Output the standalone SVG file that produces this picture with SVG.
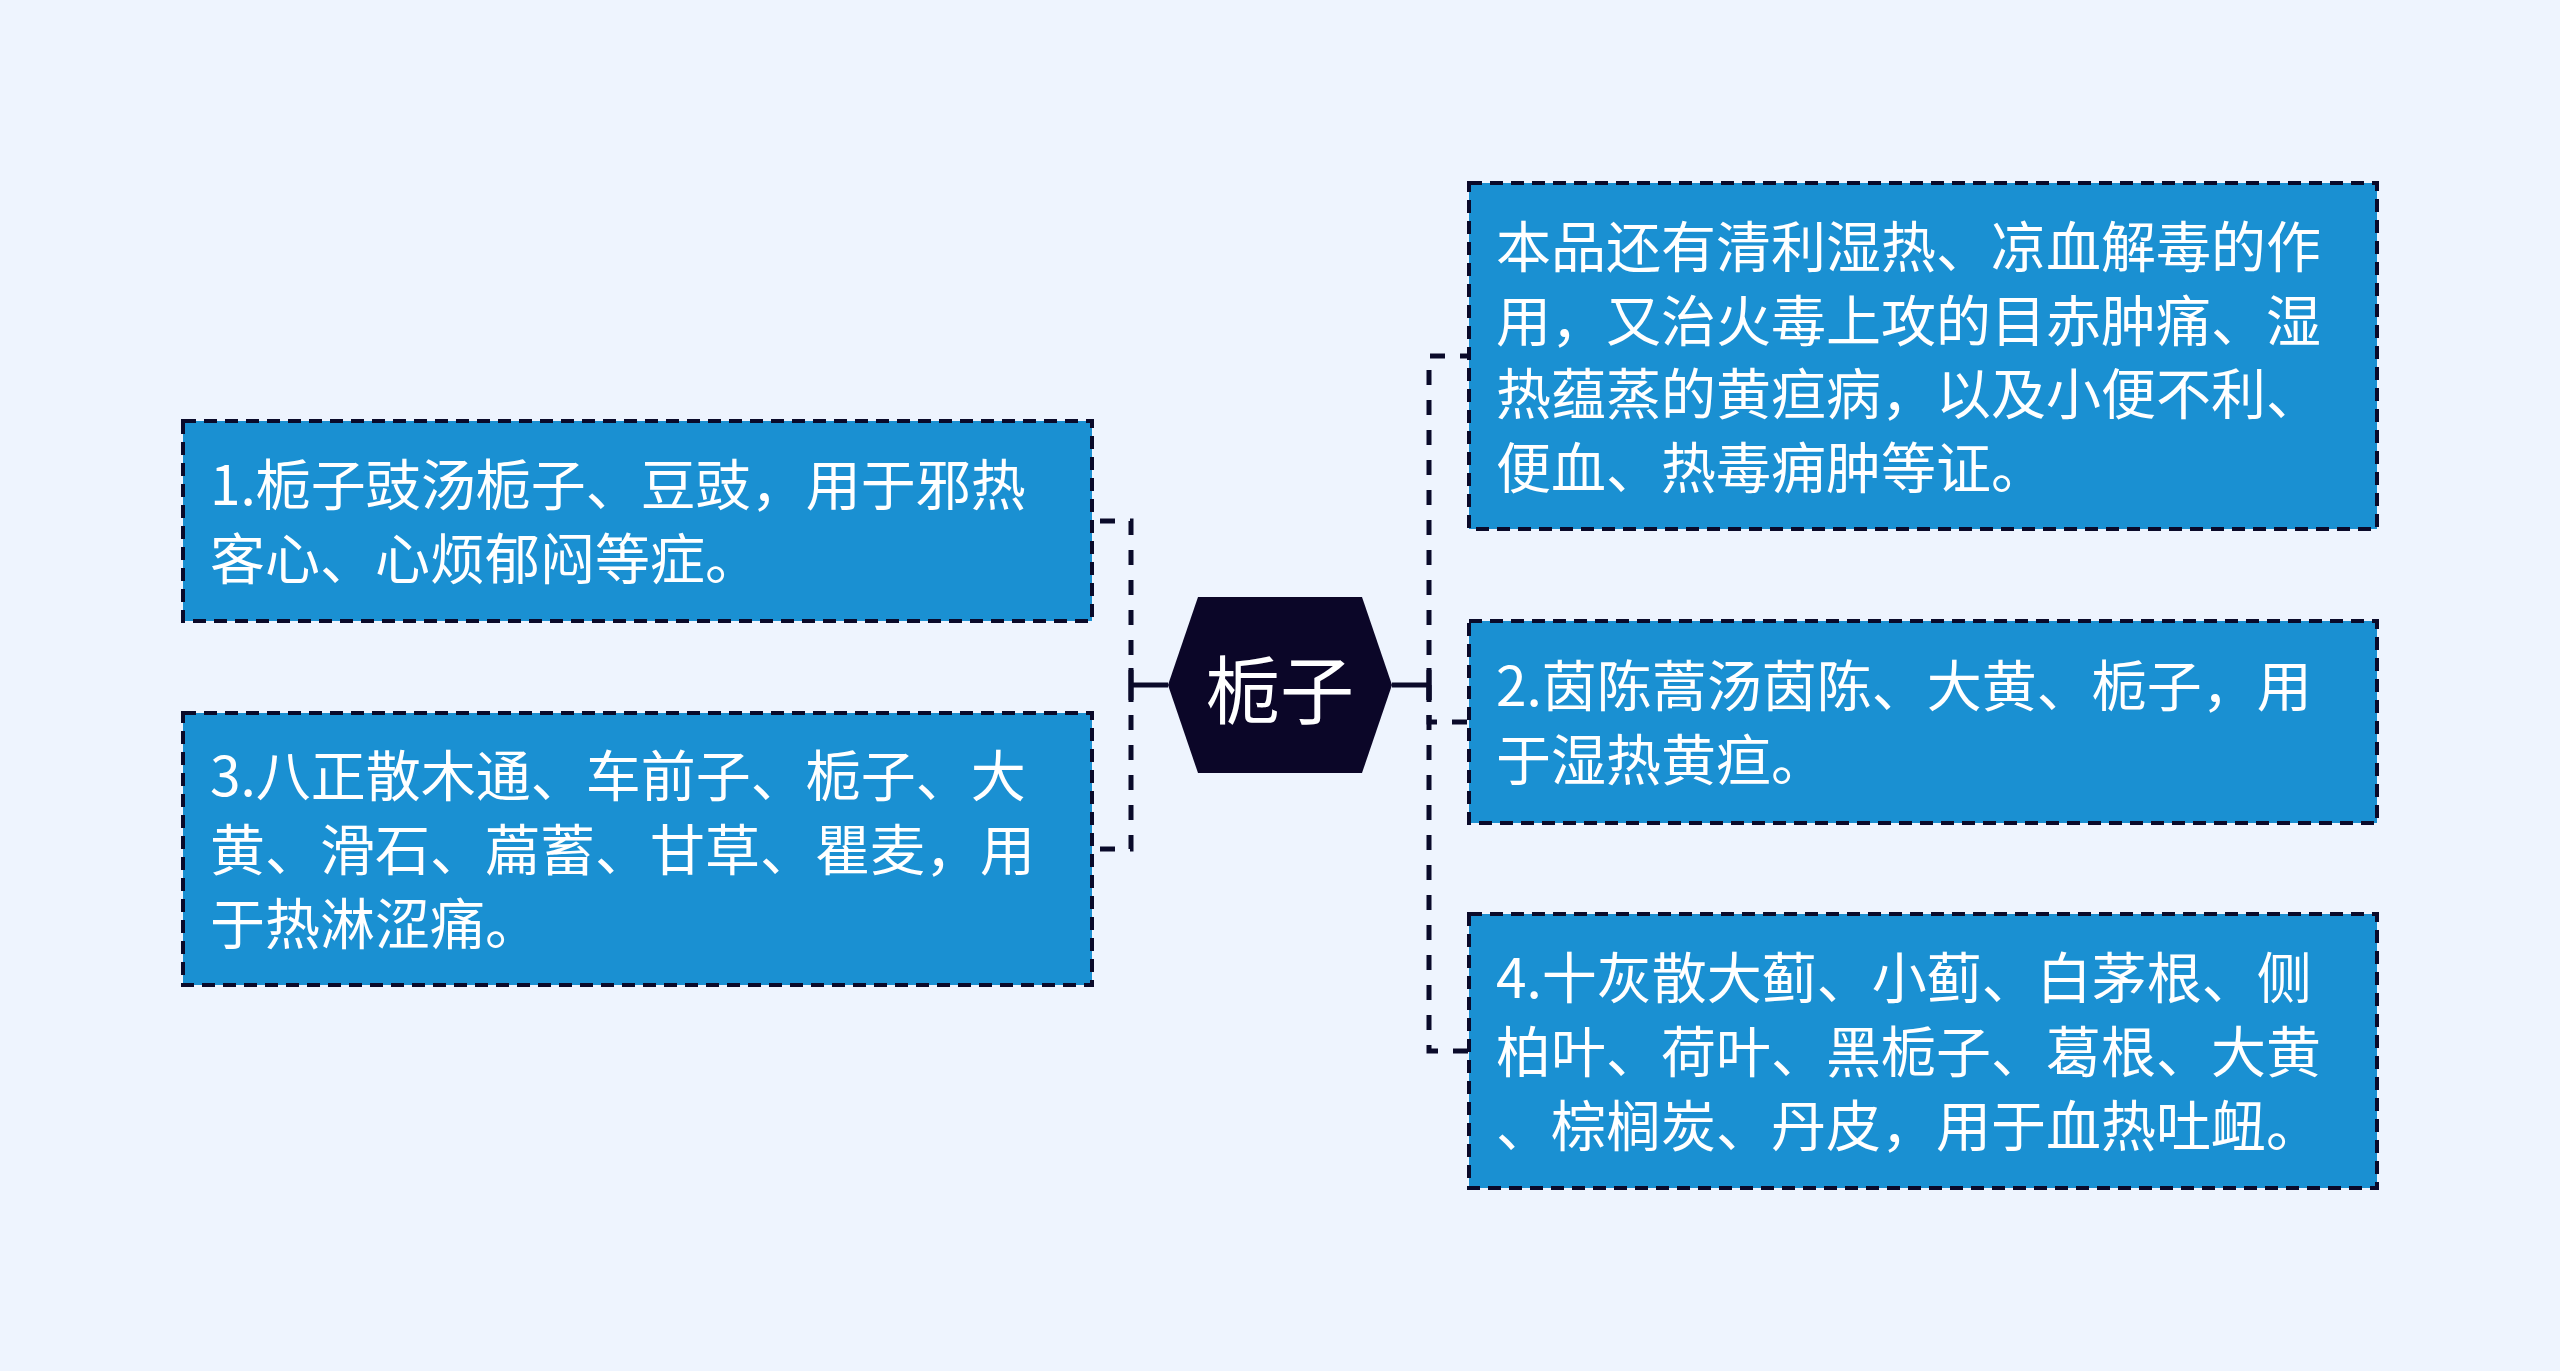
<svg xmlns="http://www.w3.org/2000/svg" width="2560" height="1371" viewBox="0 0 2560 1371">
<style>
.box{fill:#1a90d2;stroke:#0a0a2a;stroke-width:4;stroke-dasharray:13 8}
.t{font-family:"Noto Sans CJK SC","Noto Sans",sans-serif;font-size:55px;fill:#ffffff}
.c{fill:none;stroke:#0a0a2a;stroke-width:5;stroke-dasharray:15 15}
.s{fill:none;stroke:#0a0a2a;stroke-width:5}
</style>
<rect width="2560" height="1371" fill="#eef4fe"/>
<g id="connectors">
<path class="s" d="M1168,685 H1131 M1131,668 V702"/>
<path class="c" d="M1131,685 V521 H1092"/>
<path class="c" d="M1131,685 V849 H1092"/>
<path class="s" d="M1392,685 H1429 M1429,668 V702"/>
<path class="c" d="M1429,685 V356 H1469"/>
<path class="c" d="M1429,685 V722 H1469"/>
<path class="c" d="M1429,685 V1051 H1469"/>
</g>
<g id="root">
<polygon points="1168,685 1198,597 1362,597 1392,685 1362,773 1198,773" fill="#0b0628"/>
<text x="1280" y="685" text-anchor="middle" dominant-baseline="central" font-family="Noto Sans CJK SC, sans-serif" font-size="74" fill="#ffffff">栀子</text>
</g>
<g id="n1">
<rect class="box" x="183" y="421" width="909" height="200"/>
<text class="t" x="210" y="505">1.栀子豉汤栀子、豆豉，用于邪热</text>
<text class="t" x="210" y="579">客心、心烦郁闷等症。</text>
</g>
<g id="n3">
<rect class="box" x="183" y="713" width="909" height="272"/>
<text class="t" x="210" y="796">3.八正散木通、车前子、栀子、大</text>
<text class="t" x="210" y="870">黄、滑石、萹蓄、甘草、瞿麦，用</text>
<text class="t" x="210" y="944">于热淋涩痛。</text>
</g>
<g id="n0">
<rect class="box" x="1469" y="183" width="908" height="346"/>
<text class="t" x="1496" y="267">本品还有清利湿热、凉血解毒的作</text>
<text class="t" x="1496" y="341">用，又治火毒上攻的目赤肿痛、湿</text>
<text class="t" x="1496" y="414">热蕴蒸的黄疸病，以及小便不利、</text>
<text class="t" x="1496" y="488">便血、热毒痈肿等证。</text>
</g>
<g id="n2">
<rect class="box" x="1469" y="621" width="908" height="202"/>
<text class="t" x="1496" y="706">2.茵陈蒿汤茵陈、大黄、栀子，用</text>
<text class="t" x="1496" y="780">于湿热黄疸。</text>
</g>
<g id="n4">
<rect class="box" x="1469" y="914" width="908" height="274"/>
<text class="t" x="1496" y="998">4.十灰散大蓟、小蓟、白茅根、侧</text>
<text class="t" x="1496" y="1072">柏叶、荷叶、黑栀子、葛根、大黄</text>
<text class="t" x="1496" y="1146">、棕榈炭、丹皮，用于血热吐衄。</text>
</g>
</svg>
